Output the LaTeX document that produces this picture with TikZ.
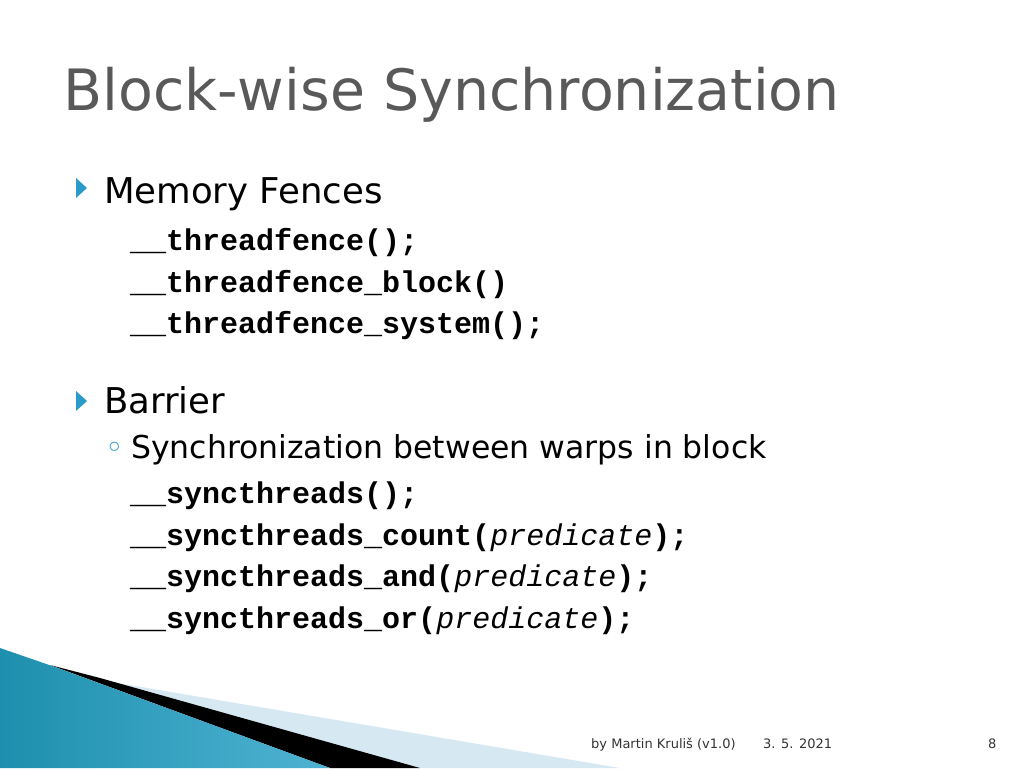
\documentclass[tikz,border=0pt]{standalone}
\usepackage{fontspec}
\setmainfont{DejaVu Sans}
\newfontfamily\codefont{Liberation Mono}
\begin{document}
\begin{tikzpicture}[x=1pt,y=-1pt,
  txt/.style={anchor=base west,inner sep=0pt},
  code/.style={txt,font=\codefont\bfseries\fontsize{30}{30}\selectfont},
  lvl/.style={txt,font=\fontsize{35.5}{36}\selectfont},
  lvltwo/.style={txt,font=\fontsize{31.5}{32}\selectfont},
  bul/.style={fill=cyan!60!teal},
  foot/.style={txt,font=\fontsize{13}{13}\selectfont,text=black!80}]
\useasboundingbox (0,0) rectangle (1024,768);
\definecolor{teal1}{HTML}{1E8FAE}
\definecolor{teal2}{HTML}{4FB3D3}
\definecolor{lb}{HTML}{D6E9F2}
\fill[lb] (100,680) -- (620,768) -- (420,768) -- cycle;
\fill[black] (50,665) -- (100,678) -- (420,768) -- (330,768) -- cycle;
\shade[left color=teal1,right color=teal2] (0,648) -- (55,667) -- (330,768) -- (0,768) -- cycle;
\node[txt,font=\fontsize{57}{57}\selectfont,text=black!65] (title) at (63,110) {Block-wise Synchronization};
\fill[bul] (76,178) -- (87,188) -- (76,198) -- cycle;
\node[lvl] (mf) at (104,203) {Memory Fences};
\node[code] (c1) at (130,250) {\_\_threadfence();};
\node[code] (c2) at (130,292) {\_\_threadfence\_block()};
\node[code] (c3) at (130,333) {\_\_threadfence\_system();};
\fill[bul] (76,391) -- (87,401) -- (76,411) -- cycle;
\node[lvl] (ba) at (104,413) {Barrier};
\node[lvltwo] (ci) at (105,458) {\textcolor{cyan!60!teal}{◦}};
\node[lvltwo] (sy) at (131,458) {Synchronization between warps in block};
\node[code] (d1) at (130,503) {\_\_syncthreads();};
\node[code] (d2) at (130,545) {\_\_syncthreads\_count(\textmd{\itshape predicate});};
\node[code] (d3) at (130,586) {\_\_syncthreads\_and(\textmd{\itshape predicate});};
\node[code] (d4) at (130,628) {\_\_syncthreads\_or(\textmd{\itshape predicate});};
\node[foot] (f1) at (591,748) {by Martin Kruliš (v1.0)};
\node[foot] (f2) at (763,748) {3. 5. 2021};
\node[foot] (f3) at (988,748) {8};
\end{tikzpicture}
\end{document}
